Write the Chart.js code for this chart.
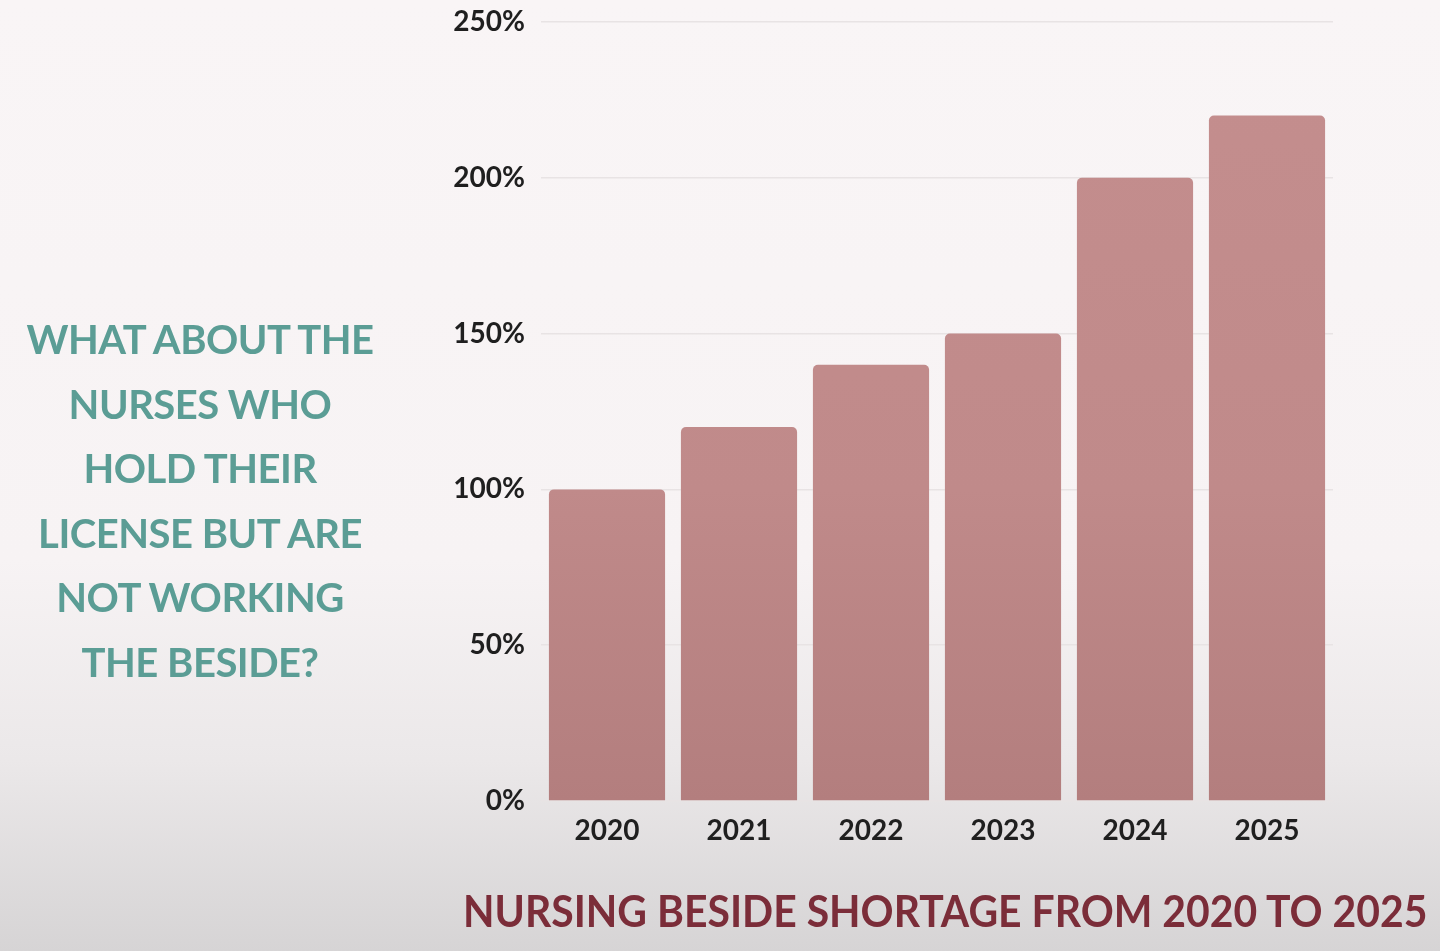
<!DOCTYPE html>
<html>
<head>
<meta charset="utf-8">
<script src="https://cdn.jsdelivr.net/npm/chart.js@4.4.0/dist/chart.umd.js"></script>
<style>
    html, body {
        margin: 0;
        padding: 0;
        width: 1440px;
        height: 951px;
        overflow: hidden;
    }
    body {
        position: relative;
        background: linear-gradient(to bottom, #f9f5f6 0px, #f7f3f4 560px, #ebe8e9 760px, #d6d4d5 951px);
        font-family: 'Lato', sans-serif;
    }
    #chart-wrap {
        position: absolute;
        left: 0;
        top: 0;
        width: 1440px;
        height: 951px;
    }
    .side-question {
        position: absolute;
        left: 0;
        top: 307px;
        width: 400px;
        text-align: center;
        color: #5b9d95;
        font-size: 40px;
        font-weight: 700;
        line-height: 64.5px;
        letter-spacing: -0.5px;
    }
    .bottom-title {
        position: absolute;
        left: 463px;
        top: 885px;
        color: #7b2d39;
        font-size: 44px;
        font-weight: 700;
        line-height: 50px;
        white-space: nowrap;
        transform-origin: left center;
        transform: scaleX(0.93);
    }
</style>
</head>
<body>
<div id="chart-wrap"><canvas id="shortage-chart" width="1440" height="951"></canvas></div>
<div class="side-question">WHAT ABOUT THE<br>NURSES WHO<br>HOLD THEIR<br>LICENSE BUT ARE<br>NOT WORKING<br>THE BESIDE?</div>
<div class="bottom-title">NURSING BESIDE SHORTAGE FROM 2020 TO 2025</div>

<script>
// Chart data
const years = ['2020', '2021', '2022', '2023', '2024', '2025'];
const shortagePct = [100, 120, 140, 150, 200, 220];
const yTicks = [0, 50, 100, 150, 200, 250];

// Bar fill, slightly darker towards the bottom
function barGradient(context) {
    const chart = context.chart;
    const area = chart.chartArea;
    if (!area) return '#c08a8a';
    const g = chart.ctx.createLinearGradient(0, area.top, 0, area.bottom);
    g.addColorStop(0, '#c48e8e');
    g.addColorStop(0.6, '#c08a8a');
    g.addColorStop(1, '#b37e7e');
    return g;
}

const ctx = document.getElementById('shortage-chart');

new Chart(ctx.getContext('2d'), {
    type: 'bar',
    data: {
        labels: years,
        datasets: [{
            data: shortagePct,
            backgroundColor: barGradient,
            borderWidth: 0,
            borderRadius: { topLeft: 5, topRight: 5 },
            borderSkipped: 'bottom',
            categoryPercentage: 0.88,
            barPercentage: 1.0
        }]
    },
    options: {
        responsive: false,
        animation: false,
        layout: {
            padding: {
                left: 430,
                right: 107,
                top: 22,
                bottom: 90
            }
        },
        plugins: {
            legend: {
                display: false
            },
            tooltip: {
                enabled: false
            }
        },
        scales: {
            x: {
                grid: {
                    display: false,
                    drawTicks: false
                },
                border: {
                    display: false
                },
                ticks: {
                    padding: 13,
                    color: '#1f1f1f',
                    font: {
                        family: 'Lato',
                        size: 28,
                        weight: 'bold'
                    }
                },
                afterFit: function(scale) {
                    scale.height = 60;
                    scale.paddingLeft = 0;
                    scale.paddingRight = 0;
                }
            },
            y: {
                min: 0,
                max: 250,
                afterBuildTicks: function(scale) {
                    scale.ticks = yTicks.map(v => ({ value: v }));
                },
                grid: {
                    color: '#e8e3e4',
                    lineWidth: 1.5,
                    drawTicks: false
                },
                border: {
                    display: false
                },
                ticks: {
                    padding: 16,
                    color: '#1f1f1f',
                    font: {
                        family: 'Lato',
                        size: 28,
                        weight: 'bold'
                    },
                    callback: function(value) {
                        return value + '%';
                    }
                },
                afterFit: function(scale) {
                    scale.width = 111;
                    scale.paddingTop = 0;
                    scale.paddingBottom = 0;
                }
            }
        }
    }
});
</script>
</body>
</html>
